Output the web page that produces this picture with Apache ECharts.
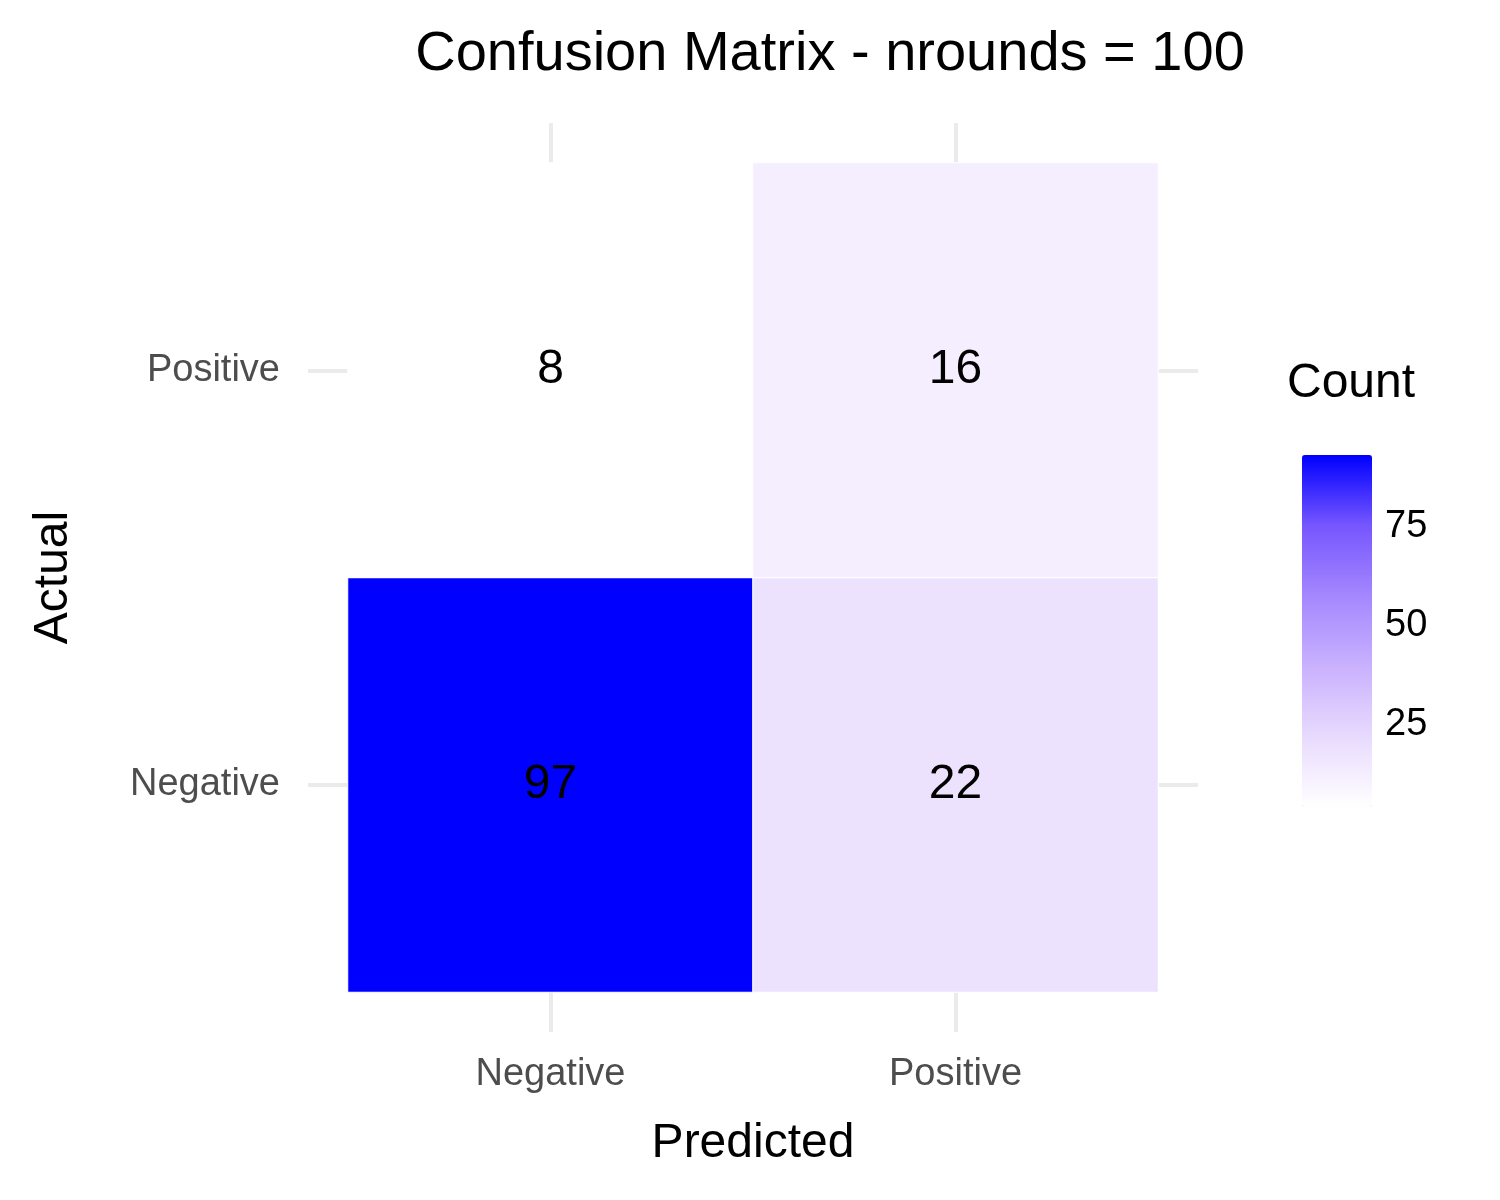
<!DOCTYPE html>
<html>
<head>
<meta charset="utf-8">
<script src="https://cdn.jsdelivr.net/npm/echarts@6/dist/echarts.min.js"></script>
<style>html,body{margin:0;padding:0;background:#fff}#main{width:1500px;height:1200px}</style>
</head>
<body>
<div id="main"></div>
<script>
var predicted = ['Negative', 'Positive'];
var actual = ['Negative', 'Positive'];
// counts[actual][predicted]
var counts = [[97, 22], [8, 16]];
var legendTicks = [25, 50, 75];

var cells = [];
actual.forEach(function (a, i) {
    predicted.forEach(function (p, j) {
        cells.push([j, i, counts[i][j]]);
    });
});

var gridTick = {show: true, alignWithLabel: true, inside: false, length: 40, lineStyle: {color: '#ebebeb', width: 4}};
var font = 'Liberation Sans, Arial, sans-serif';

var chart = echarts.init(document.getElementById('main'));
chart.setOption({
    animation: false,
    textStyle: {fontFamily: font},
    title: {text: 'Confusion Matrix - nrounds = 100', left: 825, top: 22, textAlign: 'center',
        textStyle: {fontSize: 56, fontWeight: 'normal', color: '#000', fontFamily: font}},
    graphic: [{type: 'text', left: 1287, top: 360, style: {text: 'Count', fontSize: 48, fill: '#000', fontFamily: font}}],
    grid: [
        {left: 348, right: 342, top: 163, bottom: 208},
        {left: 1287, width: 70, top: 440, height: 352}
    ],
    xAxis: [
        {type: 'category', data: predicted, gridIndex: 0, name: 'Predicted', nameLocation: 'middle', nameGap: 128,
            nameTextStyle: {fontSize: 48, color: '#000'},
            axisLine: {show: false}, axisTick: gridTick, splitLine: {show: false},
            axisLabel: {fontSize: 38, color: '#4d4d4d', margin: 64}},
        {type: 'category', data: predicted, gridIndex: 0, position: 'top',
            axisLine: {show: false}, axisTick: gridTick, axisLabel: {show: false}},
        {type: 'value', gridIndex: 1, show: false}
    ],
    yAxis: [
        {type: 'category', data: actual, gridIndex: 0, name: 'Actual', nameLocation: 'middle', nameGap: 270,
            nameTextStyle: {fontSize: 48, color: '#000'},
            axisLine: {show: false}, axisTick: gridTick, splitLine: {show: false},
            axisLabel: {fontSize: 38, color: '#4d4d4d', margin: 68}},
        {type: 'category', data: actual, gridIndex: 0, position: 'right',
            axisLine: {show: false}, axisTick: gridTick, axisLabel: {show: false}},
        {type: 'value', gridIndex: 1, min: 8, max: 97, position: 'right',
            axisLine: {show: false}, splitLine: {show: false},
            axisTick: {show: true, inside: true, length: 12, customValues: legendTicks, lineStyle: {color: '#fff', width: 2}},
            axisLabel: {fontSize: 38, color: '#000', margin: 28, customValues: legendTicks}},
        {type: 'value', gridIndex: 1, min: 8, max: 97, position: 'left',
            axisLine: {show: false}, splitLine: {show: false}, axisLabel: {show: false},
            axisTick: {show: true, inside: true, length: 12, customValues: legendTicks, lineStyle: {color: '#fff', width: 2}}}
    ],
    visualMap: {
        type: 'continuous', min: 8, max: 97, seriesIndex: 0, calculable: false,
        left: 1287, top: 440, itemWidth: 70, itemHeight: 352, text: ['', ''], showLabel: false,
        inRange: {color: ['#ffffff', '#e8dafe', '#c9b1fe', '#a487fe', '#7656fe', '#0000ff']}
    },
    series: [{
        type: 'heatmap', xAxisIndex: 0, yAxisIndex: 0, data: cells, z: 5,
        itemStyle: {borderColor: '#ffffff', borderWidth: 1},
        label: {show: true, fontSize: 48, color: '#000', fontFamily: font},
        emphasis: {disabled: true}
    }]
});
</script>
</body>
</html>
